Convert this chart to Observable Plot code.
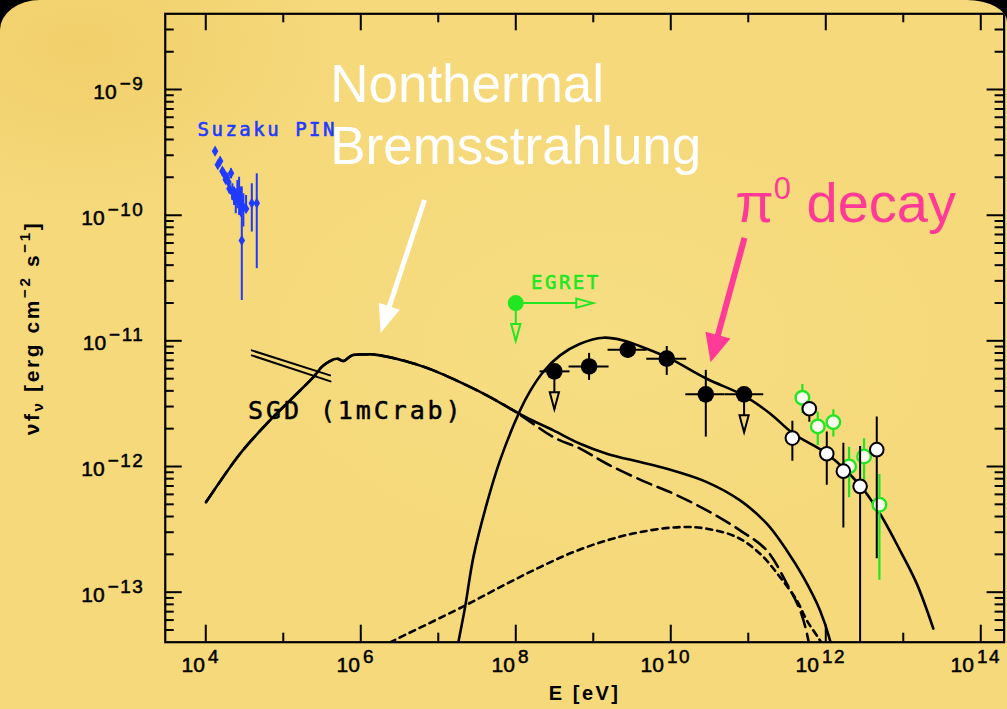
<!DOCTYPE html>
<html>
<head>
<meta charset="utf-8">
<script src="https://cdn.jsdelivr.net/npm/d3@7"></script>
<script src="https://cdn.jsdelivr.net/npm/@observablehq/plot@0.6"></script>
<style>
  html, body { margin:0; padding:0; width:1007px; height:709px; overflow:hidden; background:#000; }
  #card { position:absolute; left:0; top:0; width:1007px; height:760px;
    background:
      radial-gradient(ellipse 380px 240px at 8% 6%, rgba(238,202,96,0.6), rgba(238,202,96,0) 70%),
      radial-gradient(ellipse 520px 320px at 60% 45%, rgba(250,228,140,0.45), rgba(250,228,140,0) 70%),
      #F5D97B;
    border-top-left-radius: 40px 30px; border-top-right-radius: 40px 22px; overflow:hidden; }
  #chart { position:absolute; left:0; top:0; }
</style>
</head>
<body>
<div id="card"><div id="chart"></div></div>
<script>
// ---------------- data: log10 E [eV], log10 νFν [erg cm^-2 s^-1] ----------------
// Suzaku PIN
const suzakuLogE = [4.120, 4.155, 4.185, 4.214, 4.236, 4.258, 4.271, 4.292, 4.305, 4.326, 4.343, 4.365, 4.387, 4.408, 4.430, 4.452, 4.465, 4.485, 4.520, 4.594, 4.658];
const suzakuLogF = [-9.491, -9.599, -9.570, -9.650, -9.671, -9.718, -9.698, -9.737, -9.790, -9.666, -9.817, -9.857, -9.870, -9.843, -9.870, -9.897, -10.201, -9.936, -9.949, -9.905, -9.905];
const suzakuLo   = [-9.515, -9.625, -9.595, -9.675, -9.695, -9.742, -9.722, -9.762, -9.830, -9.710, -9.883, -9.923, -9.989, -9.949, -10.002, -10.015, -10.679, -10.095, -9.976, -10.135, -10.426];
const suzakuHi   = [-9.467, -9.573, -9.545, -9.625, -9.647, -9.694, -9.674, -9.712, -9.750, -9.631, -9.750, -9.777, -9.790, -9.724, -9.698, -9.777, -9.777, -9.830, -9.843, -9.750, -9.671];
const suzakuXlo  = [4.120, 4.155, 4.185, 4.214, 4.236, 4.258, 4.271, 4.292, 4.305, 4.326, 4.343, 4.365, 4.387, 4.408, 4.430, 4.452, 4.465, 4.485, 4.490, 4.594, 4.615];
const suzakuXhi  = [4.120, 4.155, 4.185, 4.214, 4.236, 4.258, 4.271, 4.292, 4.305, 4.326, 4.343, 4.365, 4.387, 4.408, 4.430, 4.452, 4.465, 4.485, 4.560, 4.594, 4.680];

// SGD (1mCrab) sensitivity (two parallel lines)
const sgdUpperLogE = [4.594, 5.604];
const sgdUpperLogF = [-11.076, -11.275];
const sgdLowerLogE = [4.594, 5.610];
const sgdLowerLogF = [-11.116, -11.323];

// EGRET upper limit
const egretLogE = [8.0];
const egretLogF = [-10.70];

// GeV filled points
const latLogE = [8.498, 8.946, 9.445, 9.948, 10.452, 10.946];
const latLogF = [-11.243, -11.204, -11.071, -11.142, -11.426, -11.426];
const latXlo  = [8.313, 8.688, 9.191, 9.690, 10.194, 10.700];
const latXhi  = [8.700, 9.204, 9.694, 10.206, 10.700, 11.200];
const latYlo  = [-11.243, -11.315, -11.140, -11.275, -11.766, -11.426];
const latYhi  = [-11.243, -11.100, -11.005, -11.045, -11.235, -11.426];
const latUpperLimit = [true, false, false, false, false, true];

// TeV points: white (black outline)
const hessLogE = [11.569, 11.788, 12.013, 12.227, 12.443, 12.658];
const hessLogF = [-11.774, -11.540, -11.898, -12.037, -12.158, -11.866];
const hessLo   = [-11.959, -11.647, -12.150, -12.490, -14.000, -12.733];
const hessHi   = [-11.639, -11.488, -11.726, -11.814, -11.840, -11.607];

// TeV points: green outline
const magicLogE = [11.698, 11.897, 12.098, 12.301, 12.494, 12.692];
const magicLogF = [-11.453, -11.681, -11.647, -11.999, -11.920, -12.304];
const magicLo   = [-11.580, -11.832, -11.766, -12.248, -12.111, -12.906];
const magicHi   = [-11.347, -11.567, -11.548, -11.846, -11.779, -12.063];

// Model curves
const bremsLogE = [4.004, 4.443, 4.787, 5.130, 5.388, 5.517, 5.690, 5.775, 5.884, 6.077, 6.163, 6.594, 6.937, 7.281, 7.626, 7.969, 8.142, 8.485, 8.830, 9.174, 9.604, 9.948, 10.465, 10.894, 11.239, 11.497, 11.711, 11.926, 12.055, 12.107];
const bremsLogF = [-12.283, -11.898, -11.659, -11.448, -11.289, -11.196, -11.142, -11.161, -11.116, -11.108, -11.108, -11.164, -11.235, -11.329, -11.434, -11.554, -11.612, -11.713, -11.819, -11.898, -11.965, -12.018, -12.124, -12.270, -12.455, -12.668, -12.880, -13.145, -13.384, -13.543];
const dashedLogE = [4.004, 4.443, 4.787, 5.130, 5.388, 5.517, 5.690, 5.775, 5.884, 6.077, 6.163, 6.594, 6.937, 7.281, 7.626, 7.969, 8.142, 8.485, 8.830, 9.174, 9.646, 10.034, 10.465, 10.894, 11.239, 11.497, 11.669, 11.776, 11.810];
const dashedLogF = [-12.283, -11.898, -11.659, -11.448, -11.289, -11.196, -11.142, -11.161, -11.116, -11.108, -11.108, -11.164, -11.235, -11.329, -11.434, -11.554, -11.625, -11.766, -11.858, -11.978, -12.116, -12.216, -12.349, -12.508, -12.668, -12.932, -13.145, -13.384, -13.540];
const dottedLogE = [6.250, 6.378, 7.324, 7.884, 8.314, 8.743, 9.174, 9.604, 10.121, 10.465, 10.852, 11.152, 11.410, 11.626, 11.755, 11.926, 12.000];
const dottedLogF = [-13.440, -13.399, -13.113, -12.932, -12.800, -12.681, -12.588, -12.522, -12.482, -12.495, -12.562, -12.694, -12.880, -13.065, -13.224, -13.384, -13.460];
const pi0LogE = [7.230, 7.259, 7.346, 7.453, 7.626, 7.797, 8.055, 8.185, 8.356, 8.572, 8.830, 9.130, 9.388, 9.690, 9.991, 10.465, 10.937, 11.280, 11.578, 12.013, 12.443, 12.700, 12.958, 13.174, 13.388];
const pi0LogF = [-13.490, -13.399, -13.119, -12.721, -12.296, -11.951, -11.554, -11.400, -11.246, -11.116, -11.023, -10.975, -10.997, -11.063, -11.142, -11.302, -11.434, -11.578, -11.737, -11.898, -12.150, -12.376, -12.667, -12.932, -13.290];

// Axis ticks (log10 values)
const xMajorTicks = [4, 6, 8, 10, 12, 14];
const xMinorTicks = [5, 7, 9, 11, 13];
const yMajorTicks = [-13, -12, -11, -10, -9];
const yMinorMultipliers = [2, 3, 4, 5, 6, 7, 8, 9];
const yMinorDecades = [-14, -13, -12, -11, -10, -9];

// Texts
const xAxisLabel = "E [eV]";
const yAxisLabel = "νf_{ν} [erg cm^{−2} s^{−1}]";
const bremsTitle = ["Nonthermal", "Bremsstrahlung"];
const pi0Title = "π^{0} decay";

// Annotation anchors (log10 E, log10 νFν)
const suzakuLabelAt = [3.894, -9.374];
const egretLabelAt = [8.197, -10.591];
const sgdLabelAt = [4.546, -11.625];
const bremsTitleAt = [[5.605, -9.103], [5.605, -9.597]];
const pi0TitleAt = [10.831, -10.058];
const bremsArrow = [[6.829, -9.883], [6.262, -10.941]];
const pi0Arrow = [[10.958, -10.185], [10.520, -11.174]];

// ---------------- layout / style ----------------
const X0 = 3e3, X1 = 2e14, Y0 = 4e-14, Y1 = 4e-9;
const W = 1007, H = 709, ML = 164.75, MR = 3.4, MT = 13.3, MB = 67.3;
const FW = W - ML - MR, FH = H - MT - MB;
const BG = "#F5D97B", BLUE = "#1F3BFF", GREEN = "#22E622", PINK = "#FF3A97";
const p10 = v => 10 ** v;
const fmtExp = e => (e < 0 ? "\u2212" + (-e) : "" + e);

const toPts = (xs, ys) => xs.map((x, i) => ({x: p10(x), y: p10(ys[i])}));
const suzaku = suzakuLogE.map((e, i) => ({x: p10(e), y: p10(suzakuLogF[i]), lo: p10(suzakuLo[i]), hi: p10(suzakuHi[i]), xlo: p10(suzakuXlo[i]), xhi: p10(suzakuXhi[i])}));
const lat = latLogE.map((e, i) => ({x: p10(e), y: p10(latLogF[i]), xlo: p10(latXlo[i]), xhi: p10(latXhi[i]), lo: p10(latYlo[i]), hi: p10(latYhi[i]), ul: latUpperLimit[i]}));
const hess = hessLogE.map((e, i) => ({x: p10(e), y: p10(hessLogF[i]), lo: p10(hessLo[i]), hi: p10(hessHi[i])}));
const magic = magicLogE.map((e, i) => ({x: p10(e), y: p10(magicLogF[i]), lo: p10(magicLo[i]), hi: p10(magicHi[i])}));
const egret = egretLogE.map((e, i) => ({x: p10(e), y: p10(egretLogF[i])}));
const latUL = lat.filter(d => d.ul);
const yMinorTicks = yMinorDecades.flatMap(k => yMinorMultipliers.map(m => m * 10 ** k)).filter(v => v > Y0 * 1.02 && v < Y1 * 0.98);

// open arrowheads (tip at origin)
const headDown = {draw(c) { c.moveTo(0, 0); c.lineTo(-4.6, -17); c.lineTo(4.6, -17); c.closePath(); }};
const headRight = {draw(c) { c.moveTo(0, 0); c.lineTo(-17, -4.6); c.lineTo(-17, 4.6); c.closePath(); }};

function bigArrow(arrow, color, width, headLen, headW) {
  return (index, scales) => {
    const x0 = scales.x(p10(arrow[0][0])), y0 = scales.y(p10(arrow[0][1]));
    const x1 = scales.x(p10(arrow[1][0])), y1 = scales.y(p10(arrow[1][1]));
    const dx = x1 - x0, dy = y1 - y0, L = Math.hypot(dx, dy), ux = dx / L, uy = dy / L;
    const bx = x1 - ux * headLen, by = y1 - uy * headLen;
    const g = d3.create("svg:g");
    g.append("line").attr("x1", x0).attr("y1", y0).attr("x2", bx + ux * 3).attr("y2", by + uy * 3)
      .attr("stroke", color).attr("stroke-width", width);
    g.append("path").attr("fill", color)
      .attr("d", `M${x1},${y1}L${bx - uy * headW / 2},${by + ux * headW / 2}L${bx + uy * headW / 2},${by - ux * headW / 2}Z`);
    return g.node();
  };
}

const tickStyle = {stroke: "black", strokeWidth: 2};
const annoFont = "DejaVu Sans Mono";

const plot = Plot.plot({
  width: W, height: H,
  marginLeft: ML, marginRight: MR, marginTop: MT, marginBottom: MB,
  x: {type: "log", domain: [X0, X1], axis: null},
  y: {type: "log", domain: [Y0, Y1], axis: null},
  style: {background: "transparent", overflow: "visible", fontFamily: "Liberation Sans", color: "black"},
  marks: [
    // model curves
    Plot.line(toPts(dottedLogE, dottedLogF), {x: "x", y: "y", curve: "catmull-rom", stroke: "black", strokeWidth: 2.6, strokeDasharray: "6,5", clip: true}),
    Plot.line(toPts(dashedLogE, dashedLogF), {x: "x", y: "y", curve: "catmull-rom", stroke: "black", strokeWidth: 2.6, strokeDasharray: "15,7", clip: true}),
    Plot.line(toPts(bremsLogE, bremsLogF), {x: "x", y: "y", curve: "catmull-rom", stroke: "black", strokeWidth: 2.6, clip: true}),
    Plot.line(toPts(pi0LogE, pi0LogF), {x: "x", y: "y", curve: "catmull-rom", stroke: "black", strokeWidth: 2.6, clip: true}),
    // SGD sensitivity
    Plot.line(toPts(sgdUpperLogE, sgdUpperLogF), {x: "x", y: "y", stroke: "black", strokeWidth: 2}),
    Plot.line(toPts(sgdLowerLogE, sgdLowerLogF), {x: "x", y: "y", stroke: "black", strokeWidth: 2}),
    // Suzaku PIN
    Plot.ruleX(suzaku, {x: "x", y1: "lo", y2: "hi", stroke: BLUE, strokeWidth: 2}),
    Plot.ruleY(suzaku.filter(d => d.xhi > d.xlo), {y: "y", x1: "xlo", x2: "xhi", stroke: BLUE, strokeWidth: 2}),
    Plot.dot(suzaku, {x: "x", y: "y", symbol: "diamond", r: 3.4, fill: BLUE}),
    // EGRET
    Plot.link(egret, {x1: "x", y1: "y", x2: d => d.x * 10, y2: "y", stroke: GREEN, strokeWidth: 2}),
    Plot.link(egret, {x1: "x", y1: "y", x2: "x", y2: d => d.y / 2, stroke: GREEN, strokeWidth: 2}),
    Plot.dot(egret, {x: d => d.x * 10, y: "y", symbol: headRight, fill: BG, stroke: GREEN, strokeWidth: 2}),
    Plot.dot(egret, {x: "x", y: d => d.y / 2, symbol: headDown, fill: BG, stroke: GREEN, strokeWidth: 2}),
    Plot.dot(egret, {x: "x", y: "y", r: 8, fill: GREEN}),
    // GeV points
    Plot.ruleY(lat, {y: "y", x1: "xlo", x2: "xhi", stroke: "black", strokeWidth: 2}),
    Plot.ruleX(lat.filter(d => !d.ul), {x: "x", y1: "lo", y2: "hi", stroke: "black", strokeWidth: 2}),
    Plot.link(latUL, {x1: "x", y1: "y", x2: "x", y2: d => d.y / 2, stroke: "black", strokeWidth: 2}),
    Plot.dot(latUL, {x: "x", y: d => d.y / 2, symbol: headDown, fill: BG, stroke: "black", strokeWidth: 2}),
    Plot.dot(lat, {x: "x", y: "y", r: 8.3, fill: "black"}),
    // TeV green
    Plot.ruleX(magic, {x: "x", y1: "lo", y2: "hi", stroke: GREEN, strokeWidth: 2.2, clip: true}),
    Plot.dot(magic, {x: "x", y: "y", r: 6.8, fill: "#FFFDF0", stroke: GREEN, strokeWidth: 2.4}),
    // TeV white
    Plot.ruleX(hess, {x: "x", y1: "lo", y2: "hi", stroke: "black", strokeWidth: 2, clip: true}),
    Plot.dot(hess, {x: "x", y: "y", r: 6.8, fill: "white", stroke: "black", strokeWidth: 2}),
    // frame + inward ticks
    Plot.frame({stroke: "black", strokeWidth: 2.2}),
    Plot.ruleX(xMajorTicks, {x: p10, insetTop: FH - 17, ...tickStyle}),
    Plot.ruleX(xMajorTicks, {x: p10, insetBottom: FH - 17, ...tickStyle}),
    Plot.ruleX(xMinorTicks, {x: p10, insetTop: FH - 9, ...tickStyle}),
    Plot.ruleX(xMinorTicks, {x: p10, insetBottom: FH - 9, ...tickStyle}),
    Plot.ruleY(yMajorTicks, {y: p10, insetRight: FW - 17, ...tickStyle}),
    Plot.ruleY(yMajorTicks, {y: p10, insetLeft: FW - 17, ...tickStyle}),
    Plot.ruleY(yMinorTicks, {y: d => d, insetRight: FW - 9, ...tickStyle}),
    Plot.ruleY(yMinorTicks, {y: d => d, insetLeft: FW - 9, ...tickStyle}),
    // tick labels
    Plot.text(yMajorTicks, {x: () => X0, y: p10, text: d => `10^{${fmtExp(d)}}`, textAnchor: "end", lineAnchor: "bottom", dx: -21, dy: 9.5, fontSize: 21, fill: "black", stroke: "black", strokeWidth: 0.5}),
    Plot.text(xMajorTicks, {x: p10, y: () => Y0, text: d => `10^{${fmtExp(d)}}`, textAnchor: "middle", lineAnchor: "bottom", dx: -5, dy: 30, fontSize: 21, fill: "black", stroke: "black", strokeWidth: 0.5}),
    // axis labels
    Plot.text([xAxisLabel], {frameAnchor: "bottom", text: d => d, textAnchor: "middle", lineAnchor: "bottom", dy: 58, fontSize: 20, fontWeight: "bold", fill: "black"}),
    Plot.text([yAxisLabel], {frameAnchor: "left", text: d => d, textAnchor: "middle", rotate: -90, lineAnchor: "bottom", dx: -126.75, fontSize: 21, fontWeight: "bold", fill: "black"}),
    // instrument labels
    Plot.text(["Suzaku PIN"], {x: () => p10(suzakuLabelAt[0]), y: () => p10(suzakuLabelAt[1]), text: d => d, textAnchor: "start", lineAnchor: "bottom", fontFamily: annoFont, fontSize: 19, fill: BLUE, stroke: BLUE, strokeWidth: 0.6}),
    Plot.text(["EGRET"], {x: () => p10(egretLabelAt[0]), y: () => p10(egretLabelAt[1]), text: d => d, textAnchor: "start", lineAnchor: "bottom", fontFamily: annoFont, fontSize: 19, fill: GREEN, stroke: GREEN, strokeWidth: 0.6}),
    Plot.text(["SGD (1mCrab)"], {x: () => p10(sgdLabelAt[0]), y: () => p10(sgdLabelAt[1]), text: d => d, textAnchor: "start", lineAnchor: "bottom", fontFamily: annoFont, fontSize: 25, fill: "black", stroke: "black", strokeWidth: 0.5}),
    // slide annotations
    Plot.text(bremsTitle, {x: (d, i) => p10(bremsTitleAt[i][0]), y: (d, i) => p10(bremsTitleAt[i][1]), text: d => d, textAnchor: "start", lineAnchor: "bottom", fontSize: 53, fill: "white"}),
    Plot.text([pi0Title], {x: () => p10(pi0TitleAt[0]), y: () => p10(pi0TitleAt[1]), text: d => d, textAnchor: "start", lineAnchor: "bottom", fontSize: 56, fill: PINK}),
    bigArrow(bremsArrow, "white", 5, 28, 22),
    bigArrow(pi0Arrow, PINK, 6, 28, 26)
  ]
});

document.getElementById("chart").appendChild(plot);

// rich text (super/subscripts)
function richify(el, o) {
  const s = el.textContent;
  const base = parseFloat(getComputedStyle(el).fontSize);
  while (el.firstChild) el.removeChild(el.firstChild);
  const re = /([\^_])\{([^}]*)\}|([^\^_]+)/g;
  let m, cur = 0;
  while ((m = re.exec(s))) {
    const ts = document.createElementNS("http://www.w3.org/2000/svg", "tspan");
    if (m[3] !== undefined) {
      ts.textContent = m[3];
      if (cur) ts.setAttribute("dy", -cur);
      cur = 0;
    } else {
      const up = m[1] === "^";
      const off = up ? -base * o.raise : base * o.drop;
      ts.textContent = m[2];
      ts.setAttribute("font-size", base * (up ? o.sup : o.sub));
      ts.setAttribute("dy", off - cur);
      if (o.gap) ts.setAttribute("dx", o.gap);
      if (o.spacing) ts.setAttribute("letter-spacing", o.spacing);
      cur = off;
    }
    el.appendChild(ts);
  }
}
d3.select(plot).selectAll("text").each(function () {
  const t = this.textContent;
  if (t === xAxisLabel) { this.setAttribute("letter-spacing", "2.5"); return; }
  if (/Suzaku|EGRET/.test(t)) { this.setAttribute("letter-spacing", "2.5"); return; }
  if (/SGD/.test(t)) { this.setAttribute("letter-spacing", "2.9"); return; }
  if (!/[\^_]\{/.test(t)) return;
  if (t.startsWith("10^{")) richify(this, {sup: 0.9, raise: 0.43, sub: 0.7, drop: 0.2, gap: 3, spacing: 1.5});
  else if (t.startsWith("π")) richify(this, {sup: 0.55, raise: 0.42, sub: 0.6, drop: 0.2});
  else {
    this.setAttribute("letter-spacing", "2.6");
    richify(this, {sup: 0.72, raise: 0.42, sub: 0.72, drop: 0.22});
  }
});
</script>
</body>
</html>
